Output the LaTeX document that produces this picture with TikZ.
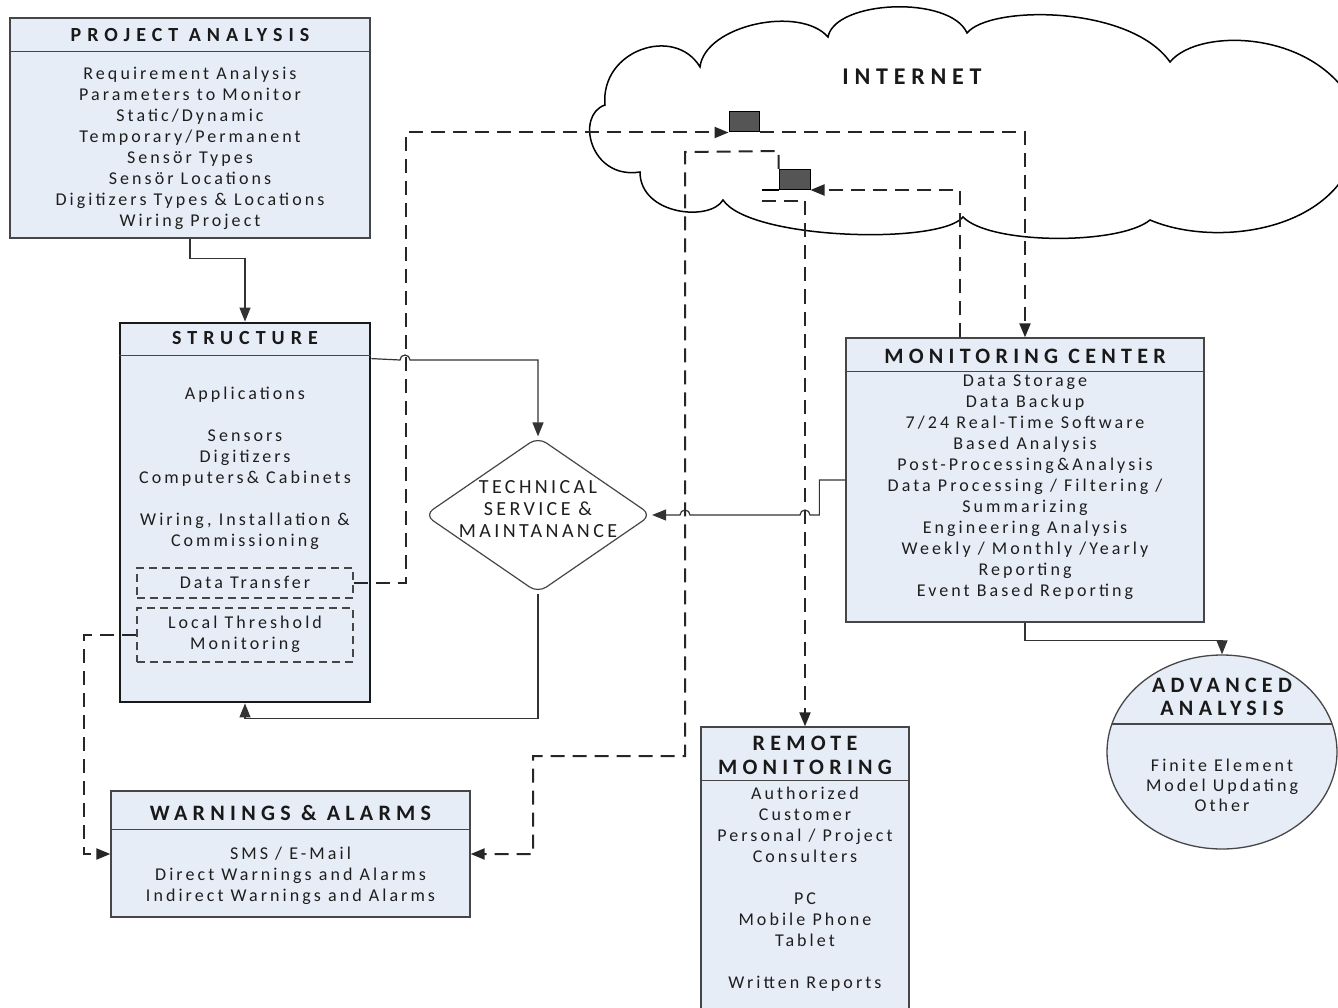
\documentclass[tikz,border=0pt]{standalone}
\usepackage{fontspec}
\setmainfont{Carlito}
\newfontfamily\bodyf[LetterSpace=17]{Carlito}
\newfontfamily\titlef[LetterSpace=24]{Carlito}
\newfontfamily\titlefw[LetterSpace=30]{Carlito}
\usetikzlibrary{arrows.meta,shapes.geometric,calc}
\definecolor{boxfill}{RGB}{231,237,247}
\definecolor{boxline}{RGB}{70,70,70}
\definecolor{txtc}{RGB}{30,30,30}
\definecolor{sqfill}{RGB}{85,85,85}
\begin{document}
\begin{tikzpicture}[x=1pt,y=-1pt,
  box/.style={draw=boxline, fill=boxfill, line width=1.3pt, inner sep=0pt},
  body/.style={font=\bodyf\fontsize{18}{21}\selectfont, text=txtc, align=center, inner sep=0pt},
  title/.style={font=\titlef\bfseries\fontsize{22}{24}\selectfont, text=black!90, align=center, inner sep=0pt},
  titlew/.style={font=\titlefw\bfseries\fontsize{20}{23}\selectfont, text=black!90, align=center, inner sep=0pt},
  conn/.style={line width=1.2pt, draw=black!80, -{Triangle[length=14pt,width=11pt]}},
  dconn/.style={line width=2pt, dash pattern=on 14pt off 8pt, draw=black!85, -{Triangle[length=14pt,width=11pt]}},
  dbox/.style={draw=boxline, dash pattern=on 8pt off 5pt, line width=1.2pt, inner sep=0pt},
  hdr/.style={draw=boxline, line width=1.3pt},
  sq/.style={draw=black, fill=sqfill, line width=1pt, minimum width=30, minimum height=20, inner sep=0pt}
]
\useasboundingbox (0,0) rectangle (1338,1008);
\clip (0,0) rectangle (1338,1008);
\fill[white] (0,0) rectangle (1338,1008);

% cloud
\draw[line width=1.5pt, fill=white] (605,105) .. controls (600,50) and (675,25) .. (700,67)
 .. controls (705,25) and (800,5) .. (828,37)
 .. controls (835,0) and (950,-5) .. (967,33)
 .. controls (990,5) and (1130,5) .. (1170,62)
 .. controls (1200,25) and (1330,30) .. (1360,120)
 .. controls (1360,230) and (1220,250) .. (1150,220)
 .. controls (1120,245) and (990,245) .. (963,217)
 .. controls (940,245) and (750,240) .. (723,200)
 .. controls (710,222) and (640,215) .. (640,172)
 .. controls (590,180) and (575,115) .. (605,105) -- cycle;
\node[title, font=\titlef\bfseries\fontsize{24}{26}\selectfont] (inet) at (912,77) {INTERNET};

% project analysis
\node[box, minimum width=360, minimum height=220] (pa) at (190,128) {};
\draw[hdr] ($(pa.north west)+(0,34)$) -- ($(pa.north east)+(0,34)$);
\node[titlew] (pat) at (190,35) {PROJECT ANALYSIS};
\node[body] (pab) at (190,148) {Requirement Analysis\\Parameters to Monitor\\Static/Dynamic\\Temporary/Permanent\\Sensör Types\\Sensör Locations\\Digitizers Types \& Locations\\Wiring Project};

% structure
\node[box, line width=2.8pt, draw=black!90, minimum width=250, minimum height=379] (st) at (245,512.5) {};
\draw[hdr] ($(st.north west)+(0,34)$) -- ($(st.north east)+(0,34)$);
\node[titlew] (stt) at (245,338) {STRUCTURE};
\node[body] (stb) at (245,468.5) {Applications\\[21pt]Sensors\\Digitizers\\Computers\& Cabinets\\[21pt]Wiring, Installation \&\\Commissioning};
\node[dbox, minimum width=216, minimum height=30] (dt) at (245,583) {};
\node[body] (dtt) at (245,582) {Data Transfer};
\node[dbox, minimum width=216, minimum height=54] (lt) at (245,635) {};
\node[body] (ltt) at (245,634.5) {Local Threshold\\Monitoring};

% technical service
\node[diamond, draw=boxline, line width=1.2pt, fill=white, minimum width=227, minimum height=156, inner sep=0pt, rounded corners=10pt] (tsm) at (538,515) {};
\node[body, font=\bodyf\fontsize{20}{22}\selectfont] (tsmt) at (538,509) {TECHNICAL\\SERVICE \&\\MAINTANANCE};

% monitoring center
\node[box, minimum width=358, minimum height=284] (mc) at (1025,480) {};
\draw[hdr] ($(mc.north west)+(0,34)$) -- ($(mc.north east)+(0,34)$);
\node[title] (mct) at (1025,356) {MONITORING CENTER};
\node[body] (mcb) at (1025,487.5) {Data Storage\\Data Backup\\7/24 Real-Time Software\\Based Analysis\\Post-Processing\&Analysis\\Data Processing / Filtering /\\Summarizing\\Engineering Analysis\\Weekly / Monthly /Yearly\\Reporting\\Event Based Reporting};

% advanced analysis
\node[ellipse, draw=boxline, fill=boxfill, line width=1.3pt, minimum width=230, minimum height=194, inner sep=0pt] (aa) at (1222,752) {};
\draw[hdr] ($(aa.center)+(-110,-28)$) -- ($(aa.center)+(110,-28)$);
\node[title, font=\titlef\bfseries\fontsize{22}{23}\selectfont] (aat) at (1222,696.5) {ADVANCED\\ANALYSIS};
\node[body, font=\bodyf\fontsize{18}{20}\selectfont] (aab) at (1222,785) {Finite Element\\Model Updating\\Other};

% remote monitoring
\node[box, minimum width=208, minimum height=290] (rm) at (805,872) {};
\draw[hdr] ($(rm.north west)+(0,54)$) -- ($(rm.north east)+(0,54)$);
\node[title] (rmt) at (805,755) {REMOTE\\MONITORING};
\node[body] (rmb) at (805,889) {Authorized\\Customer\\Personal / Project\\Consulters\\[21pt]PC\\Mobile Phone\\Tablet\\[21pt]Written Reports};

% warnings
\node[box, minimum width=359, minimum height=126] (wa) at (290.5,854) {};
\draw[hdr] ($(wa.north west)+(0,39)$) -- ($(wa.north east)+(0,39)$);
\node[title] (wat) at (290.5,813) {WARNINGS \& ALARMS};
\node[body] (wab) at (290.5,876) {SMS / E-Mail\\Direct Warnings and Alarms\\Indirect Warnings and Alarms};

% squares
\node[sq] (sq1) at (744,122) {};
\node[sq, minimum width=31] (sq2) at (794.5,179.5) {};

% solid connectors
\draw[conn] (pa.south) -- ++(0,20) -| (st.north);
\draw[conn] ($(st.north east)+(0,37)$) -- (400,360) arc[start angle=180, end angle=360, radius=5] -| (tsm.north);
\draw[conn] (tsm.south) -- ++(0,125) -| (st.south);
\draw[conn] (mc.west) -- ++(-26,0) -- ++(0,35) -- (810,515) arc[start angle=0, end angle=-180, radius=5] -- (690,515) arc[start angle=0, end angle=-180, radius=5] -- (tsm.east);
\draw[conn] (mc.south) -- ++(0,18) -| (aa.north);

% dashed connectors
\draw[dconn] (dt.east) -- ++(52,0) |- (sq1.south west);
\draw[dconn] (sq1.south east) -| (mc.north);
\draw[dconn] ($(mc.north)+(-65,0)$) |- (sq2.south east);
\draw[dconn] (sq2.north west) -- ++(0,-18) -- (685,152) -- (685,756) -- (533,756) |- (wa.east);
\draw[line width=1.2pt] (sq2.south west) -- ++(-17,0);
\draw[dconn] ($(sq2.south west)+(-17,11)$) -| (rm.north);
\draw[dconn] (lt.west) -- ++(-52,0) |- (wa.west);
\end{tikzpicture}
\end{document}
